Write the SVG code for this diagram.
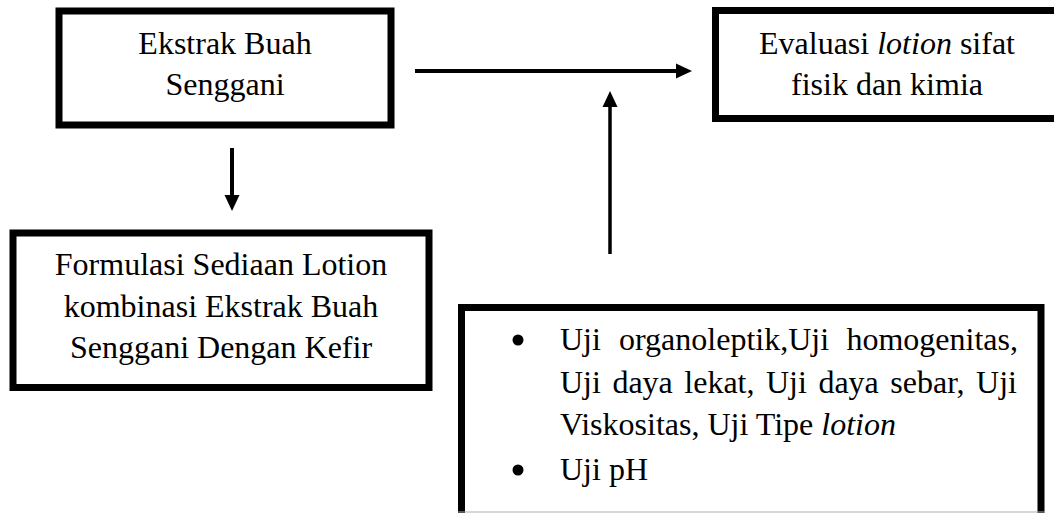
<svg xmlns="http://www.w3.org/2000/svg" width="1054" height="513" viewBox="0 0 1054 513">
<style>
.box{fill:none;stroke:#000;stroke-width:7}
.t{font-family:"Liberation Serif","Times New Roman",serif;font-size:32px;fill:#000}
.c{text-anchor:middle}
.conn{stroke:#000;fill:none}
</style>
<defs>
<marker id="ah" markerUnits="userSpaceOnUse" markerWidth="17" markerHeight="16" refX="0" refY="7.5" orient="auto" viewBox="0 0 17 15">
<path d="M0,0 L16,7.5 L0,15 z" fill="#000"/>
</marker>
</defs>
<rect width="1054" height="513" fill="#fff"/>
<g id="node-ekstrak">
<rect class="box" x="59" y="11" width="332" height="114"/>
<text class="t c" x="225" y="54">Ekstrak Buah</text>
<text class="t c" x="225" y="95">Senggani</text>
</g>
<g id="node-formulasi">
<rect class="box" x="13" y="233" width="416" height="154.5"/>
<text class="t c" x="221" y="275">Formulasi Sediaan Lotion</text>
<text class="t c" x="221" y="316.5">kombinasi Ekstrak Buah</text>
<text class="t c" x="221" y="358">Senggani Dengan Kefir</text>
</g>
<g id="node-evaluasi">
<rect class="box" x="715.5" y="10.5" width="350" height="108"/>
<text class="t c" x="887" y="54">Evaluasi <tspan font-style="italic">lotion</tspan> sifat</text>
<text class="t c" x="887" y="95">fisik dan kimia</text>
</g>
<g id="node-uji">
<path class="box" d="M461.5,516 V307.5 H1041 V516"/>
<line x1="458" y1="512" x2="1045" y2="512" stroke="#b0b0b0" stroke-width="1"/>
<circle cx="518" cy="340" r="5.5" fill="#000"/>
<text class="t" x="560" y="350">Uji</text>
<text class="t" x="619" y="350">organoleptik,Uji</text>
<text class="t" x="1018" y="350" text-anchor="end">homogenitas,</text>
<text class="t" x="560" y="393" word-spacing="3.5">Uji daya lekat, Uji daya sebar, Uji</text>
<text class="t" x="560" y="435">Viskositas, Uji Tipe <tspan font-style="italic">lotion</tspan></text>
<circle cx="518" cy="470" r="5.5" fill="#000"/>
<text class="t" x="560" y="480">Uji pH</text>
</g>
<g id="connectors">
<line class="conn" x1="232" y1="148" x2="232" y2="195" stroke-width="4" marker-end="url(#ah)"/>
<line class="conn" x1="415" y1="71" x2="676" y2="71" stroke-width="4" marker-end="url(#ah)"/>
<line class="conn" x1="610" y1="254" x2="610" y2="107" stroke-width="3.5" marker-end="url(#ah)"/>
</g>
</svg>
